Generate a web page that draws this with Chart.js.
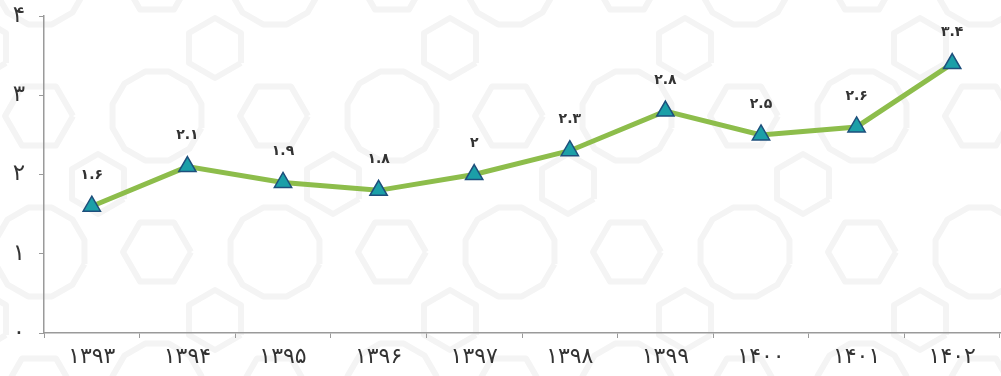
<!DOCTYPE html>
<html>
<head>
<meta charset="utf-8">
<script src="https://cdn.jsdelivr.net/npm/chart.js@4.4.0/dist/chart.umd.min.js"></script>
<style>
  html, body { margin: 0; padding: 0; background: #fff; }
  #wrap { width: 1001px; height: 376px; position: relative; }
</style>
</head>
<body>
<div id="wrap"><canvas id="rateChart"></canvas></div>
<script>
var years = ['1393', '1394', '1395', '1396', '1397', '1398', '1399', '1400', '1401', '1402'];
var values = [1.6, 2.1, 1.9, 1.8, 2, 2.3, 2.8, 2.5, 2.6, 3.4];
var yTicks = [0, 1, 2, 3, 4];

function toFa(s) {
    return String(s).replace(/[0-9]/g, function (d) { return '۰۱۲۳۴۵۶۷۸۹'[d]; });
}

// faint geometric background, only decoration
var backdrop = {
    id: 'backdrop',
    beforeDraw: function (chart) {
        var c = chart.ctx;
        c.save();
        c.strokeStyle = '#f4f4f4';
        c.lineWidth = 6;
        c.lineJoin = 'round';
        function poly(cx, cy, r, n, rot) {
            c.beginPath();
            for (var k = 0; k <= n; k++) {
                var a = rot + k * 2 * Math.PI / n;
                var px = cx + r * Math.cos(a), py = cy + r * Math.sin(a);
                if (k == 0) c.moveTo(px, py); else c.lineTo(px, py);
            }
            c.stroke();
        }
        for (var row = -1; row < 3; row++) {
            for (var col = -1; col < 6; col++) {
                var cx = 40 + col * 235 + (row % 2 ? 117 : 0);
                var cy = 252 - row * 136;
                poly(cx, cy, 46, 12, Math.PI / 12);
                poly(cx + 117, cy, 34, 6, 0);
                poly(cx + 58, cy - 68, 30, 6, Math.PI / 6);
            }
        }
        c.restore();
    }
};

// draw value labels above each point
var valueLabels = {
    id: 'valueLabels',
    afterDatasetsDraw: function (chart) {
        var ctx = chart.ctx;
        var meta = chart.getDatasetMeta(0);
        ctx.save();
        ctx.font = 'bold 14px "DejaVu Sans"';
        ctx.fillStyle = '#333';
        ctx.textAlign = 'center';
        ctx.textBaseline = 'middle';
        meta.data.forEach(function (pt, i) {
            ctx.fillText(toFa(values[i]), pt.x, pt.y - 31);
        });
        ctx.restore();
    }
};

function noPad(s) {
    s.paddingLeft = 0;
    s.paddingRight = 0;
    s.paddingTop = 0;
    s.paddingBottom = 0;
}

var ctx = document.getElementById('rateChart').getContext('2d');
var rateChart = new Chart(ctx, {
    type: 'line',
    data: {
        labels: years,
        datasets: [{
            data: values,
            borderColor: '#8dbd4b',
            borderWidth: 5,
            pointStyle: 'triangle',
            pointRadius: 10,
            pointHoverRadius: 10,
            pointBackgroundColor: '#1b9fa8',
            pointBorderColor: '#1e4f7c',
            pointBorderWidth: 1.5,
            tension: 0,
        }],
    },
    plugins: [backdrop, valueLabels],
    options: {
        responsive: true,
        maintainAspectRatio: false,
        animation: false,
        plugins: {
            legend: { display: false },
            tooltip: { enabled: false },
        },
        layout: {
            autoPadding: false,
            padding: { left: 0, right: 1, top: 16, bottom: 0 },
        },
        scales: {
            x: {
                offset: true,
                grid: {
                    offset: true,
                    drawOnChartArea: false,
                    tickLength: 5,
                    color: '#9a9a9a',
                },
                border: { color: '#9a9a9a', width: 1.5 },
                ticks: {
                    color: '#333',
                    font: { family: 'DejaVu Sans', size: 22 },
                    padding: 6,
                    callback: function (v, i) { return toFa(years[i]); },
                },
                afterFit: function (s) { s.height = 43; noPad(s); },
            },
            y: {
                min: 0,
                max: 4,
                afterBuildTicks: function (s) {
                    s.ticks = yTicks.map(function (v) { return { value: v }; });
                },
                grid: {
                    drawOnChartArea: false,
                    tickLength: 5,
                    color: '#9a9a9a',
                },
                border: { color: '#9a9a9a', width: 1.5 },
                ticks: {
                    color: '#333',
                    font: { family: 'DejaVu Sans', size: 23 },
                    padding: 14,
                    callback: function (v) { return toFa(v); },
                },
                afterFit: function (s) { s.width = 44; noPad(s); },
            },
        },
    },
});
</script>
</body>
</html>
